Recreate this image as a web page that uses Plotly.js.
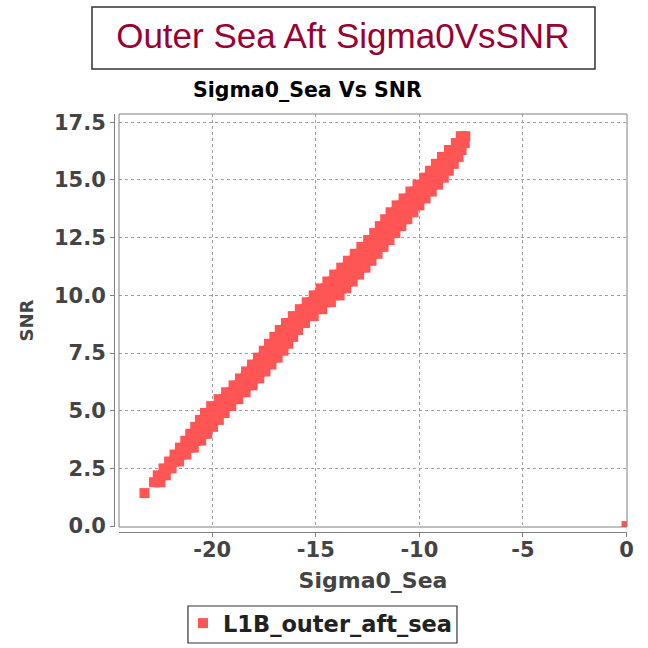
<!DOCTYPE html>
<html>
<head>
<meta charset="utf-8">
<script src="https://cdn.plot.ly/plotly-3.0.1.min.js"></script>
<style>
  html, body { margin: 0; padding: 0; background: #ffffff; }
  #chart { width: 648px; height: 648px; }
</style>
</head>
<body>
<div id="chart"></div>
<script>
// SNR levels (y) of the dense point cloud and the Sigma0 extent of points at each level
const snrLevels = [1.9, 2.2, 2.5, 2.8, 3.1, 3.4, 3.7, 4.0, 4.3, 4.6, 4.9, 5.2, 5.5, 5.8, 6.1, 6.4, 6.7, 7.0, 7.3, 7.6,
  7.9, 8.2, 8.5, 8.8, 9.1, 9.4, 9.7, 10.0, 10.3, 10.6, 10.9, 11.2, 11.5, 11.8, 12.1, 12.4, 12.7, 13.0, 13.3, 13.6,
  13.9, 14.2, 14.5, 14.8, 15.1, 15.4, 15.7, 16.0, 16.3, 16.6, 16.9];
const sigmaLow = [-22.81, -22.63, -22.35, -22.08, -21.82, -21.56, -21.30, -21.06, -20.82, -20.59, -20.35, -20.05, -19.69, -19.33, -18.97, -18.66, -18.37, -18.08, -17.79, -17.51,
  -17.26, -17.00, -16.74, -16.44, -16.11, -15.77, -15.44, -15.10, -14.77, -14.44, -14.11, -13.77, -13.45, -13.12, -12.80, -12.47, -12.18, -11.91, -11.65, -11.39,
  -11.10, -10.76, -10.43, -10.09, -9.77, -9.49, -9.20, -8.91, -8.57, -8.24, -8.00];
const sigmaHigh = [-22.50, -22.24, -21.96, -21.60, -21.25, -20.89, -20.53, -20.24, -19.96, -19.68, -19.40, -19.08, -18.74, -18.39, -18.05, -17.73, -17.43, -17.14, -16.84, -16.56,
  -16.33, -16.09, -15.86, -15.52, -15.10, -14.69, -14.27, -13.85, -13.53, -13.22, -12.91, -12.60, -12.31, -12.02, -11.73, -11.44, -11.16, -10.87, -10.58, -10.29,
  -10.00, -9.70, -9.40, -9.10, -8.82, -8.58, -8.34, -8.11, -7.96, -7.81, -7.78];
// isolated points
const extraSigma = [-23.27, 0.0];
const extraSNR = [1.43, 0.0];

const xTickVals = [-20, -15, -10, -5, 0];
const xTickText = ['-20', '-15', '-10', '-5', '0'];
const yTickVals = [0, 2.5, 5, 7.5, 10, 12.5, 15, 17.5];
const yTickText = ['0.0', '2.5', '5.0', '7.5', '10.0', '12.5', '15.0', '17.5'];

const seriesName = 'L1B_outer_aft_sea';
const red = '#FF5555';

// build traces from the data arrays
const fillX = [], fillY = [];
const ptX = [], ptY = [];
for (let i = 0; i < snrLevels.length; i++) {
  fillX.push(sigmaLow[i], sigmaHigh[i], null);
  fillY.push(snrLevels[i], snrLevels[i], null);
  ptX.push(sigmaLow[i], sigmaHigh[i]);
  ptY.push(snrLevels[i], snrLevels[i]);
}
for (let i = 0; i < extraSigma.length; i++) { ptX.push(extraSigma[i]); ptY.push(extraSNR[i]); }

const tickFont = {family: 'DejaVu Sans', size: 21, color: '#444444', weight: 'bold'};

const traces = [
  {type: 'scatter', mode: 'lines', x: fillX, y: fillY, connectgaps: false,
   line: {color: red, width: 10}, showlegend: false, hoverinfo: 'skip'},
  {type: 'scatter', mode: 'markers', name: seriesName, x: ptX, y: ptY,
   marker: {symbol: 'square', size: 10, color: red, line: {width: 0}}}
];

const layout = {
  width: 648, height: 648,
  margin: {l: 114, r: 21, t: 114, b: 116, pad: 0, autoexpand: false},
  paper_bgcolor: '#ffffff', plot_bgcolor: '#ffffff',
  title: {text: 'Outer Sea Aft Sigma0VsSNR', xref: 'container', yref: 'container', x: 0.529, y: 0.9445,
          xanchor: 'center', yanchor: 'middle',
          font: {family: 'Liberation Sans', size: 35, color: '#990033'}},
  xaxis: {domain: [0.00975, 1], anchor: 'free', position: 0, range: [-24.5, 0.024],
          tickmode: 'array', tickvals: xTickVals, ticktext: xTickText,
          showline: true, linecolor: '#808080', linewidth: 1,
          ticks: 'outside', ticklen: 4, tickcolor: '#808080', ticklabelstandoff: -5,
          showgrid: true, gridcolor: '#a0a0a0', gridwidth: 1, griddash: '3px,3px', zeroline: false,
          tickfont: tickFont,
          title: {text: 'Sigma0_Sea', standoff: 11, font: {family: 'DejaVu Sans', size: 22, color: '#444444', weight: 'bold'}}},
  yaxis: {domain: [0.01196, 1], anchor: 'free', position: 0, range: [-0.04, 17.86],
          tickmode: 'array', tickvals: yTickVals, ticktext: yTickText,
          showline: true, linecolor: '#808080', linewidth: 1,
          ticks: 'outside', ticklen: 4, tickcolor: '#808080',
          showgrid: true, gridcolor: '#a0a0a0', gridwidth: 1, griddash: '3px,3px', zeroline: false,
          tickfont: tickFont,
          title: {text: 'SNR', standoff: 14, font: {family: 'DejaVu Sans', size: 18, color: '#444444', weight: 'bold'}}},
  shapes: [
    {type: 'rect', xref: 'x domain', yref: 'y domain', x0: 0, x1: 1, y0: 0, y1: 1,
     line: {color: '#808080', width: 1}, layer: 'above'},
    {type: 'rect', xref: 'paper', yref: 'paper', x0: -0.0429, x1: 0.9376, y0: 1.1077, y1: 1.256,
     line: {color: '#333333', width: 1.5}, fillcolor: 'rgba(0,0,0,0)'},
    // legend frame
    {type: 'rect', xref: 'paper', yref: 'paper', x0: 0.1442, x1: 0.6686, y0: -0.2656, y1: -0.1770,
     line: {color: '#333333', width: 1.2}, fillcolor: 'rgba(0,0,0,0)'}
  ],
  annotations: [
    {text: 'Sigma0_Sea Vs SNR', xref: 'paper', yref: 'paper', x: 0.377, y: 1.0574,
     xanchor: 'center', yanchor: 'middle', showarrow: false,
     font: {family: 'DejaVu Sans', size: 20.5, color: '#000000', weight: 'bold'}}
  ],
  showlegend: true,
  legend: {orientation: 'h', x: 0.1345, xanchor: 'left', y: -0.1675, yanchor: 'top',
           borderwidth: 0, bgcolor: 'rgba(0,0,0,0)',
           font: {family: 'DejaVu Sans', size: 22.5, color: '#222222', weight: 'bold'}}
};

Plotly.newPlot('chart', traces, layout, {displayModeBar: false, staticPlot: true});
</script>
</body>
</html>
